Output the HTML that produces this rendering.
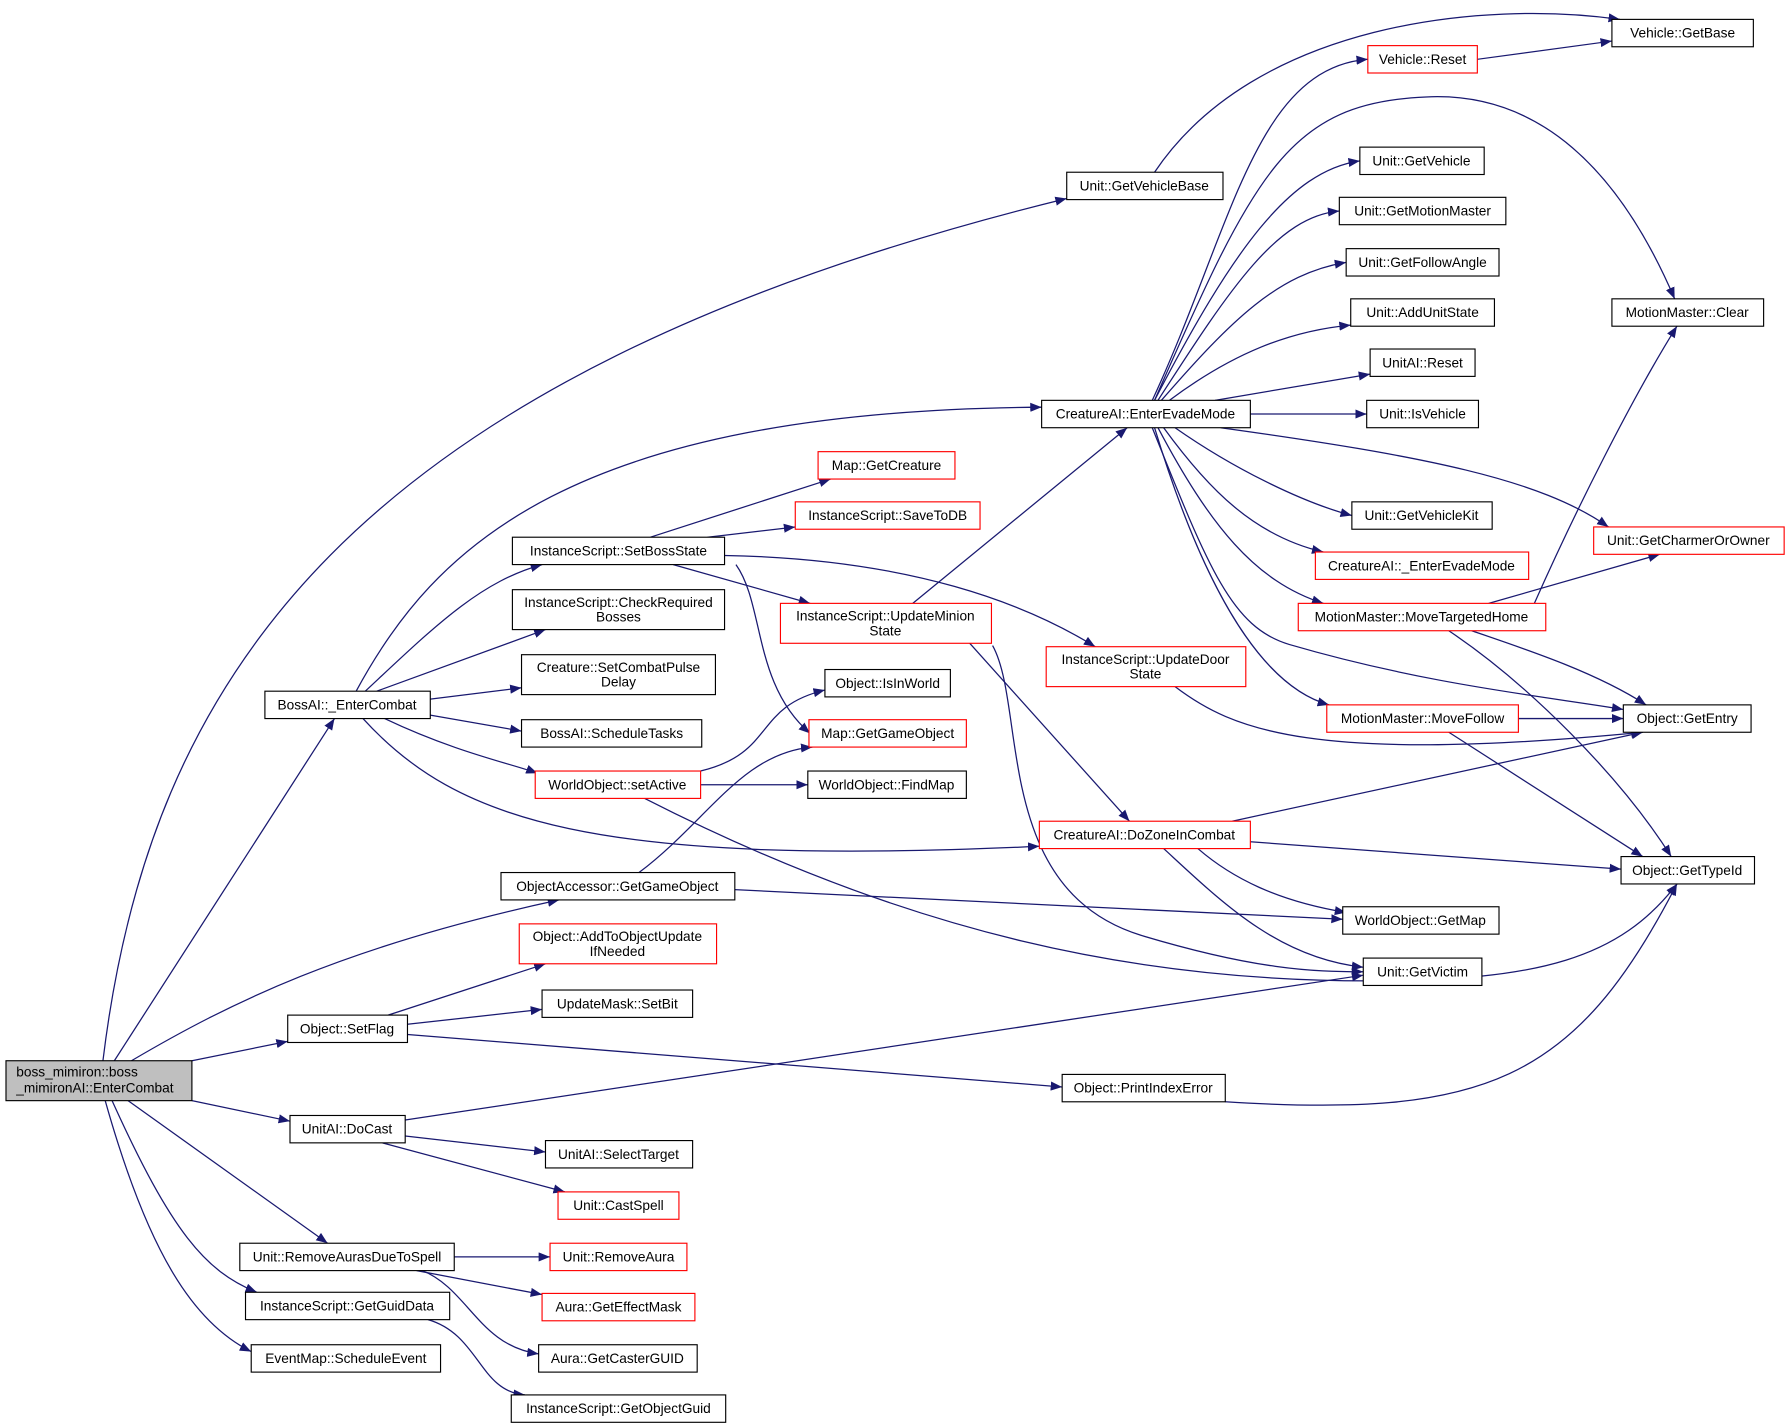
<!DOCTYPE html>
<html><head><meta charset="utf-8"><style>
html,body{margin:0;padding:0;background:#fff}
svg{display:block}
text{font-family:"Liberation Sans",sans-serif;font-size:12px;fill:#000}
.n{fill:#fff;stroke:#000;stroke-width:1}
.r{fill:#fff;stroke:#f00;stroke-width:1}
.e{fill:none;stroke:#191970;stroke-width:1.1}
</style></head><body>
<svg width="1789" height="1428" viewBox="0 0 1568 1252" xmlns="http://www.w3.org/2000/svg">
<defs><marker id="a" viewBox="0 0 10 8" refX="10" refY="4" markerWidth="10" markerHeight="8" markerUnits="userSpaceOnUse" orient="auto"><path d="M0,0 L10,4 L0,8 z" fill="#191970"/></marker></defs>
<g class="e" marker-end="url(#a)">
<path d="M90,930 C130,600 300,330 935,174"/>
<path d="M100,930 L293,630"/>
<path d="M115,930 C200,880 300,830 490,789"/>
<path d="M168,930 L252,913"/>
<path d="M168,965 L254,983"/>
<path d="M112,965 L287,1090"/>
<path d="M98,965 C150,1080 180,1115 225,1133"/>
<path d="M92,965 C130,1100 170,1160 220,1185"/>
<path d="M312,606 C380,480 500,360 913,357"/>
<path d="M320,606 C380,550 420,510 475,495"/>
<path d="M330,606 L478,552"/>
<path d="M377,613 L457,603"/>
<path d="M377,627 L457,641"/>
<path d="M337,630 C400,660 450,670 471,678"/>
<path d="M318,630 C400,720 520,760 911,742"/>
<path d="M570,471 L728,420"/>
<path d="M620,471 L697,462"/>
<path d="M590,495 L710,529"/>
<path d="M635,487 C800,490 900,530 960,567"/>
<path d="M645,495 C670,530 660,600 710,643"/>
<path d="M800,529 L988,375"/>
<path d="M850,564 L990,720"/>
<path d="M870,566 C900,620 870,780 1000,820 C1100,850 1150,852 1195,852"/>
<path d="M1030,602 C1080,640 1150,670 1440,642"/>
<path d="M614,676 C680,660 660,620 723,605"/>
<path d="M614,688 L708,688"/>
<path d="M565,700 C800,820 1000,860 1200,860 C1350,860 1420,840 1470,775"/>
<path d="M560,765 C620,720 650,660 712,655"/>
<path d="M644,780 L1177,806"/>
<path d="M340,890 L478,845"/>
<path d="M357,898 L475,885"/>
<path d="M357,907 L931,953"/>
<path d="M355,982 L1195,855"/>
<path d="M355,996 L478,1010"/>
<path d="M335,1002 L495,1045"/>
<path d="M398,1102 L482,1102"/>
<path d="M365,1114 L475,1135"/>
<path d="M370,1114 C410,1130 420,1180 472,1187"/>
<path d="M375,1157 C420,1170 420,1220 460,1223"/>
<path d="M1012,151 C1100,20 1300,0 1420,17"/>
<path d="M1295,52 L1413,36"/>
<path d="M1010,351 C1080,200 1100,60 1199,52"/>
<path d="M1012,351 C1100,150 1130,90 1250,85 C1350,80 1420,150 1468,262"/>
<path d="M1012,351 C1080,220 1130,150 1192,141"/>
<path d="M1015,351 C1080,250 1120,190 1174,185"/>
<path d="M1018,351 C1080,280 1120,240 1180,230"/>
<path d="M1025,351 C1080,310 1130,290 1184,285"/>
<path d="M1065,351 L1201,328"/>
<path d="M1096,363 L1198,363"/>
<path d="M1030,375 C1080,410 1140,440 1185,452"/>
<path d="M1070,375 C1250,400 1350,420 1410,462"/>
<path d="M1020,375 C1060,430 1100,470 1160,484"/>
<path d="M1015,375 C1060,460 1100,510 1160,529"/>
<path d="M1012,375 C1050,500 1100,600 1165,618"/>
<path d="M1010,375 C1060,500 1080,550 1130,565 C1250,600 1350,610 1423,622"/>
<path d="M1345,529 C1380,450 1430,350 1470,286"/>
<path d="M1305,529 L1455,486"/>
<path d="M1290,553 C1340,570 1400,590 1443,618"/>
<path d="M1270,553 C1340,600 1420,680 1465,751"/>
<path d="M1331,630 L1423,630"/>
<path d="M1270,642 L1440,751"/>
<path d="M1080,720 L1440,642"/>
<path d="M1096,738 L1421,762"/>
<path d="M1050,744 C1080,770 1120,790 1180,800"/>
<path d="M1020,744 C1070,790 1120,840 1195,848"/>
<path d="M1074,966 C1300,980 1380,950 1470,775"/>
</g>
<rect x="5" y="930" width="163" height="35" fill="#bfbfbf" stroke="#000"/>
<text x="14" y="944">boss_mimiron::boss</text><text x="14" y="958">_mimironAI::EnterCombat</text>
<g>
<rect class="n" x="935" y="151" width="137" height="24"/><text x="1003" y="167" text-anchor="middle">Unit::GetVehicleBase</text>
<rect class="n" x="1413" y="17" width="124" height="24"/><text x="1475" y="33" text-anchor="middle">Vehicle::GetBase</text>
<rect class="r" x="1199" y="40" width="96" height="24"/><text x="1247" y="56" text-anchor="middle">Vehicle::Reset</text>
<rect class="n" x="1192" y="129" width="109" height="24"/><text x="1246" y="145" text-anchor="middle">Unit::GetVehicle</text>
<rect class="n" x="1174" y="173" width="146" height="24"/><text x="1247" y="189" text-anchor="middle">Unit::GetMotionMaster</text>
<rect class="n" x="1180" y="218" width="134" height="24"/><text x="1247" y="234" text-anchor="middle">Unit::GetFollowAngle</text>
<rect class="n" x="1184" y="262" width="126" height="24"/><text x="1247" y="278" text-anchor="middle">Unit::AddUnitState</text>
<rect class="n" x="1201" y="306" width="92" height="24"/><text x="1247" y="322" text-anchor="middle">UnitAI::Reset</text>
<rect class="n" x="1198" y="351" width="98" height="24"/><text x="1247" y="367" text-anchor="middle">Unit::IsVehicle</text>
<rect class="n" x="1413" y="262" width="133" height="24"/><text x="1479" y="278" text-anchor="middle">MotionMaster::Clear</text>
<rect class="n" x="913" y="351" width="183" height="24"/><text x="1004" y="367" text-anchor="middle">CreatureAI::EnterEvadeMode</text>
<rect class="r" x="717" y="396" width="120" height="24"/><text x="777" y="412" text-anchor="middle">Map::GetCreature</text>
<rect class="r" x="697" y="440" width="162" height="24"/><text x="778" y="456" text-anchor="middle">InstanceScript::SaveToDB</text>
<rect class="n" x="449" y="471" width="186" height="24"/><text x="542" y="487" text-anchor="middle">InstanceScript::SetBossState</text>
<rect class="n" x="1185" y="440" width="123" height="24"/><text x="1246" y="456" text-anchor="middle">Unit::GetVehicleKit</text>
<rect class="r" x="1397" y="462" width="167" height="24"/><text x="1480" y="478" text-anchor="middle">Unit::GetCharmerOrOwner</text>
<rect class="r" x="1153" y="484" width="187" height="24"/><text x="1246" y="500" text-anchor="middle">CreatureAI::_EnterEvadeMode</text>
<rect class="n" x="449" y="517" width="186" height="35"/><text x="542" y="532" text-anchor="middle">InstanceScript::CheckRequired</text><text x="542" y="545" text-anchor="middle">Bosses</text>
<rect class="r" x="684" y="529" width="185" height="35"/><text x="776" y="544" text-anchor="middle">InstanceScript::UpdateMinion</text><text x="776" y="557" text-anchor="middle">State</text>
<rect class="r" x="1138" y="529" width="217" height="24"/><text x="1246" y="545" text-anchor="middle">MotionMaster::MoveTargetedHome</text>
<rect class="r" x="917" y="567" width="175" height="35"/><text x="1004" y="582" text-anchor="middle">InstanceScript::UpdateDoor</text><text x="1004" y="595" text-anchor="middle">State</text>
<rect class="n" x="457" y="574" width="170" height="35"/><text x="542" y="589" text-anchor="middle">Creature::SetCombatPulse</text><text x="542" y="602" text-anchor="middle">Delay</text>
<rect class="n" x="232" y="606" width="145" height="24"/><text x="304" y="622" text-anchor="middle">BossAI::_EnterCombat</text>
<rect class="n" x="723" y="587" width="110" height="24"/><text x="778" y="603" text-anchor="middle">Object::IsInWorld</text>
<rect class="r" x="1163" y="618" width="168" height="24"/><text x="1247" y="634" text-anchor="middle">MotionMaster::MoveFollow</text>
<rect class="n" x="1423" y="618" width="112" height="24"/><text x="1479" y="634" text-anchor="middle">Object::GetEntry</text>
<rect class="n" x="457" y="631" width="158" height="24"/><text x="536" y="647" text-anchor="middle">BossAI::ScheduleTasks</text>
<rect class="r" x="709" y="631" width="138" height="24"/><text x="778" y="647" text-anchor="middle">Map::GetGameObject</text>
<rect class="r" x="469" y="676" width="145" height="24"/><text x="541" y="692" text-anchor="middle">WorldObject::setActive</text>
<rect class="n" x="708" y="676" width="139" height="24"/><text x="777" y="692" text-anchor="middle">WorldObject::FindMap</text>
<rect class="r" x="911" y="720" width="185" height="24"/><text x="1003" y="736" text-anchor="middle">CreatureAI::DoZoneInCombat</text>
<rect class="n" x="1421" y="751" width="117" height="24"/><text x="1479" y="767" text-anchor="middle">Object::GetTypeId</text>
<rect class="n" x="439" y="765" width="205" height="24"/><text x="541" y="781" text-anchor="middle">ObjectAccessor::GetGameObject</text>
<rect class="n" x="1177" y="795" width="137" height="24"/><text x="1245" y="811" text-anchor="middle">WorldObject::GetMap</text>
<rect class="r" x="455" y="810" width="173" height="35"/><text x="541" y="825" text-anchor="middle">Object::AddToObjectUpdate</text><text x="541" y="838" text-anchor="middle">IfNeeded</text>
<rect class="n" x="1195" y="840" width="104" height="24"/><text x="1247" y="856" text-anchor="middle">Unit::GetVictim</text>
<rect class="n" x="475" y="868" width="132" height="24"/><text x="541" y="884" text-anchor="middle">UpdateMask::SetBit</text>
<rect class="n" x="252" y="890" width="105" height="24"/><text x="304" y="906" text-anchor="middle">Object::SetFlag</text>
<rect class="n" x="931" y="942" width="143" height="24"/><text x="1002" y="958" text-anchor="middle">Object::PrintIndexError</text>
<rect class="n" x="254" y="978" width="101" height="24"/><text x="304" y="994" text-anchor="middle">UnitAI::DoCast</text>
<rect class="n" x="478" y="1000" width="129" height="24"/><text x="542" y="1016" text-anchor="middle">UnitAI::SelectTarget</text>
<rect class="r" x="489" y="1045" width="106" height="24"/><text x="542" y="1061" text-anchor="middle">Unit::CastSpell</text>
<rect class="n" x="210" y="1090" width="188" height="24"/><text x="304" y="1106" text-anchor="middle">Unit::RemoveAurasDueToSpell</text>
<rect class="r" x="482" y="1090" width="120" height="24"/><text x="542" y="1106" text-anchor="middle">Unit::RemoveAura</text>
<rect class="r" x="475" y="1134" width="134" height="24"/><text x="542" y="1150" text-anchor="middle">Aura::GetEffectMask</text>
<rect class="n" x="215" y="1133" width="179" height="24"/><text x="304" y="1149" text-anchor="middle">InstanceScript::GetGuidData</text>
<rect class="n" x="472" y="1179" width="139" height="24"/><text x="541" y="1195" text-anchor="middle">Aura::GetCasterGUID</text>
<rect class="n" x="220" y="1179" width="166" height="24"/><text x="303" y="1195" text-anchor="middle">EventMap::ScheduleEvent</text>
<rect class="n" x="448" y="1223" width="188" height="24"/><text x="542" y="1239" text-anchor="middle">InstanceScript::GetObjectGuid</text>
</g>
</svg>
</body></html>
